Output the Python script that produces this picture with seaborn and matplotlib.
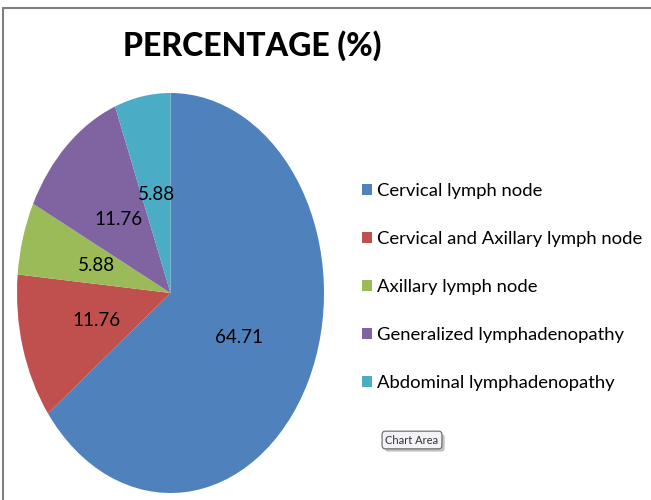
import matplotlib
matplotlib.use('Agg')
import matplotlib.pyplot as plt
import matplotlib.patheffects as pe
import seaborn as sns
from matplotlib.patches import Rectangle

# data
categories = ['Cervical lymph node', 'Cervical and Axillary lymph node',
              'Axillary lymph node', 'Generalized lymphadenopathy',
              'Abdominal lymphadenopathy']
percentages = [64.71, 11.76, 5.88, 11.76, 5.88]
colors = ['#4F81BD', '#C0504D', '#9BBB59', '#8064A2', '#4BACC6']
title = 'PERCENTAGE (%)'

sns.set_theme(style='white')
plt.rcParams['font.family'] = ['Lato', 'DejaVu Sans']

W, H = 651, 500
fig = plt.figure(figsize=(W / 100, H / 100), dpi=100)
fig.patch.set_facecolor('white')

ax = fig.add_axes([17 / W, 7 / H, 307 / W, 400 / H])
total = sum(percentages)
wedges, texts, autotexts = ax.pie(
    percentages, colors=sns.color_palette(colors), startangle=90,
    counterclock=False, pctdistance=0.5,
    autopct=lambda p: f'{p * total / 100:.2f}',
    wedgeprops=dict(linewidth=0),
    textprops=dict(fontsize=13.5, color='black'))
ax.set_aspect('auto')
ax.set_xlim(-1, 1)
ax.set_ylim(-1, 1)
ax.axis('off')

fig.text(252 / W, 1 - 46 / H, title, ha='center', va='center',
         fontsize=23, fontweight='black', color='black')

fs = 13.3
px = fs * 100 / 72
leg = fig.legend(wedges, categories, loc='center left',
                 bbox_to_anchor=(362 / W, 1 - 287 / H), frameon=False,
                 fontsize=fs, borderpad=0, borderaxespad=0,
                 handlelength=10 / px, handleheight=10 / px,
                 handletextpad=5 / px, labelspacing=1.74)
for t in leg.get_texts():
    t.set_color('black')

# outer chart border (top and left visible)
fig.add_artist(Rectangle((3 / W, -0.2), 1.2, 1.2 - 8 / H, transform=fig.transFigure,
                         fill=False, edgecolor='#7f7f7f', linewidth=1.5))

tip = fig.text(412 / W, 1 - 440 / H, 'Chart Area', ha='center', va='center',
               fontsize=8, color='#333333',
               bbox=dict(boxstyle='round,pad=0.3', fc='#f3f3f7', ec='#666666', lw=0.8))
tip.get_bbox_patch().set_path_effects(
    [pe.SimplePatchShadow(offset=(2, -2), shadow_rgbFace='#999999', alpha=0.6), pe.Normal()])

fig.savefig('out.png', dpi=100)
